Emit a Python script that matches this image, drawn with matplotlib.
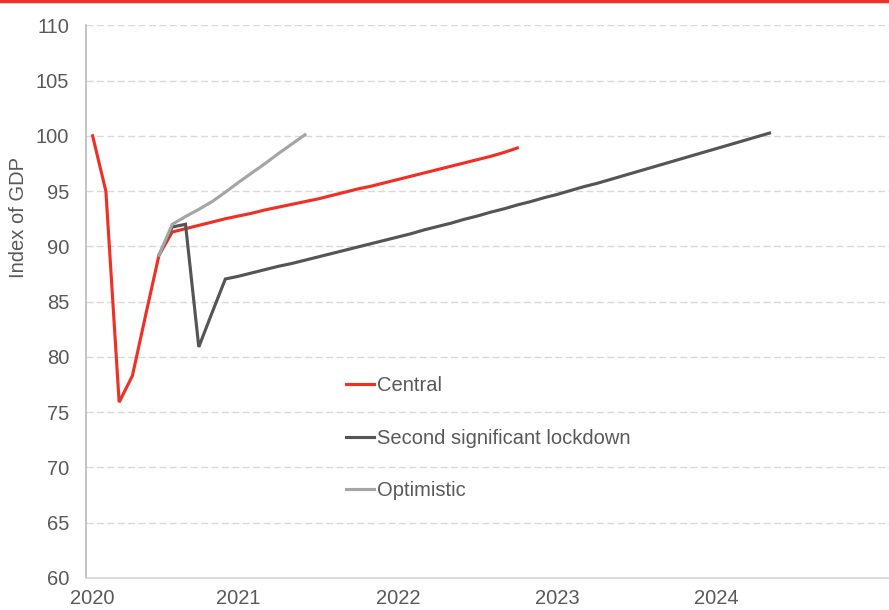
import numpy as np
import matplotlib
matplotlib.use('Agg')
import matplotlib.pyplot as plt
from matplotlib.lines import Line2D

plt.rcParams['font.family'] = ['Liberation Sans', 'DejaVu Sans']

# monthly index of GDP, month 0 = Feb 2020
central = [100, 95, 75.9, 78.3, 83.8, 89.2, 91.3, 91.6, 91.9, 92.2, 92.5, 92.75,
           93.0, 93.3, 93.55, 93.8, 94.05, 94.3, 94.6, 94.9, 95.2, 95.45, 95.75,
           96.05, 96.35, 96.65, 96.95, 97.25, 97.55, 97.85, 98.15, 98.5, 98.9]
lockdown_start = 5
lockdown = [89.2, 91.75, 92.0, 80.9, 84.0, 87.05, 87.3, 87.6, 87.9, 88.2, 88.45,
            88.75, 89.05, 89.35, 89.65, 89.95, 90.25, 90.55, 90.85, 91.15, 91.5,
            91.8, 92.1, 92.45, 92.75, 93.1, 93.4, 93.75, 94.05, 94.4, 94.7, 95.05,
            95.4, 95.7, 96.05, 96.4, 96.75, 97.1, 97.45, 97.8, 98.15, 98.5, 98.85,
            99.2, 99.55, 99.9, 100.25]
optimistic_start = 5
optimistic = [89.2, 92.0, 92.7, 93.35, 94.05, 94.9, 95.8, 96.65, 97.5, 98.4,
              99.25, 100.1]

year_labels = ['2020', '2021', '2022', '2023', '2024']
year_ticks = [0, 11, 23, 35, 47]

RED = '#EE3124'
DARK = '#555555'
LIGHT = '#A5A5A5'
TEXT = '#595959'
FS = 14.5

fig = plt.figure(figsize=(8.89, 6.10), dpi=100)
ax = fig.add_axes([0.0967, 0.0525, 0.9033, 0.906])

ax.plot(np.arange(len(central)), central, color=RED, lw=2.25, label='Central',
        solid_joinstyle='miter')
ax.plot(np.arange(len(lockdown)) + lockdown_start, lockdown, color=DARK, lw=2.25,
        label='Second significant lockdown', solid_joinstyle='miter')
ax.plot(np.arange(len(optimistic)) + optimistic_start, optimistic, color=LIGHT,
        lw=2.25, label='Optimistic', solid_joinstyle='miter')

ax.set_xlim(-0.5, 60)
ax.set_ylim(60, 110)
ax.set_yticks(np.arange(60, 111, 5))
ax.set_xticks(year_ticks)
ax.set_xticklabels(year_labels)

ax.grid(axis='y', color='#D9D9D9', lw=1, linestyle=(0, (5, 2.5)))
ax.set_axisbelow(True)
for s in ['top', 'right']:
    ax.spines[s].set_visible(False)
ax.spines['left'].set_color('#BFBFBF')
ax.spines['left'].set_linewidth(1.3)
ax.spines['bottom'].set_color('#D9D9D9')
ax.spines['bottom'].set_linewidth(1.3)

ax.tick_params(axis='y', length=0, pad=12, labelsize=FS, labelcolor=TEXT)
ax.tick_params(axis='x', length=0, pad=8, labelsize=FS, labelcolor=TEXT)

ax.set_ylabel('Index of GDP', fontsize=FS, color=TEXT)
ax.yaxis.set_label_coords(-0.072, 0.652)

ax.legend(loc='upper left', bbox_to_anchor=(346 / 889, 1 - 376 / 610),
          bbox_transform=fig.transFigure, frameon=False, fontsize=FS,
          handlelength=1.4, handletextpad=0.12, labelspacing=1.67,
          borderpad=0, borderaxespad=0, labelcolor=TEXT)

# red rule across the top
fig.add_artist(Line2D([0, 1], [0.998, 0.998], transform=fig.transFigure,
                      color=RED, lw=2.5))

fig.savefig('out.png', dpi=100)
